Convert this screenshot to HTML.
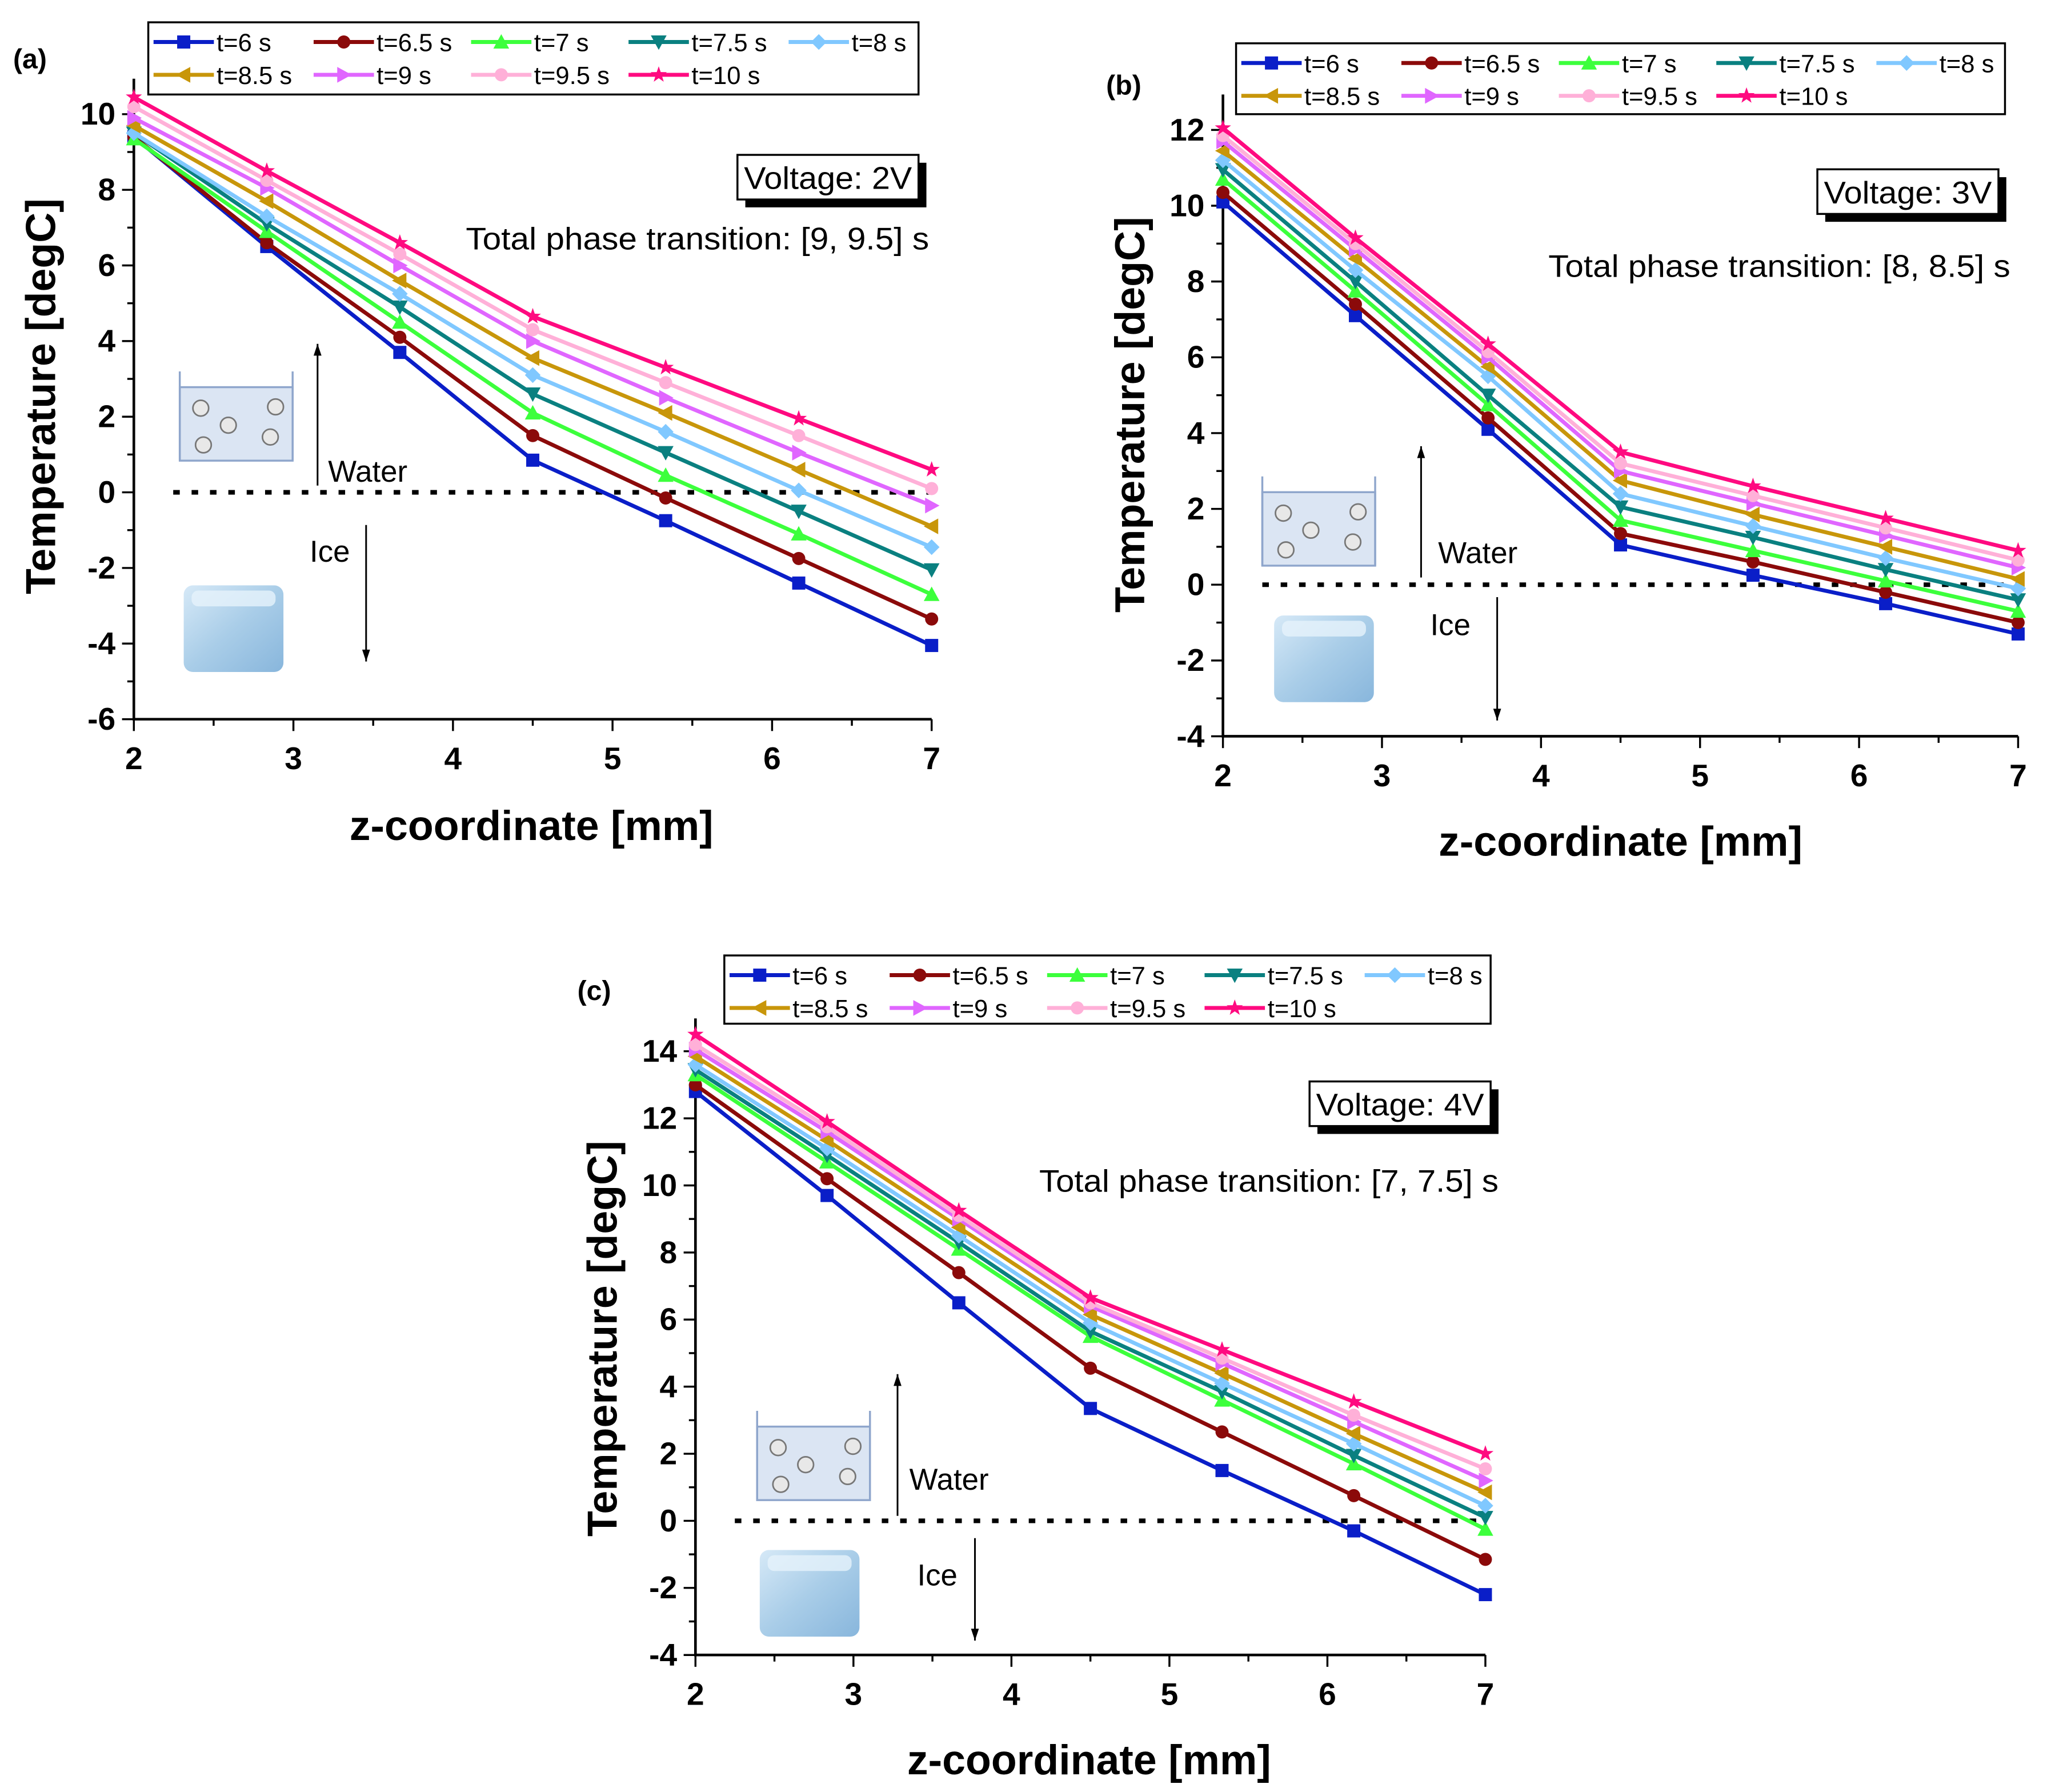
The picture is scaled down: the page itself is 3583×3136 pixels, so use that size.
<!DOCTYPE html>
<html><head><meta charset="utf-8">
<style>
html,body{margin:0;padding:0;background:#fff;}
svg{display:block;font-family:"Liberation Sans",Arial,sans-serif;}
</style></head>
<body>
<svg id="fig" width="3583" height="3136" viewBox="0 0 1560 1365.4" xmlns="http://www.w3.org/2000/svg">
<defs>
<linearGradient id="iceg" x1="0" y1="0" x2="1" y2="1">
<stop offset="0" stop-color="#d6e9f7"/><stop offset="0.5" stop-color="#a9cde8"/><stop offset="1" stop-color="#88b6dc"/>
</linearGradient>
</defs>
</svg>
<script>
const zValues = [2, 2.833, 3.667, 4.5, 5.333, 6.167, 7];
const seriesNames = ['t=6 s','t=6.5 s','t=7 s','t=7.5 s','t=8 s','t=8.5 s','t=9 s','t=9.5 s','t=10 s'];
const seriesColors = ['#0a1ec8','#8b0a0a','#3cff3c','#0a8080','#80c8ff','#c8960a','#e066ff','#ffb0d8','#ff0a80'];
const seriesMarkers = ['square','circle','tri-up','tri-down','diamond','tri-left','tri-right','hex','star'];
const tempA = [
 [9.4, 6.5, 3.7, 0.85, -0.75, -2.4, -4.05],
 [9.4, 6.6, 4.1, 1.5, -0.15, -1.75, -3.35],
 [9.35, 6.9, 4.5, 2.1, 0.45, -1.1, -2.7],
 [9.5, 7.1, 4.9, 2.6, 1.05, -0.5, -2.05],
 [9.5, 7.3, 5.25, 3.1, 1.6, 0.05, -1.45],
 [9.7, 7.7, 5.6, 3.55, 2.1, 0.6, -0.9],
 [9.9, 8.05, 6.0, 4.0, 2.5, 1.05, -0.35],
 [10.2, 8.25, 6.3, 4.3, 2.9, 1.5, 0.1],
 [10.45, 8.5, 6.6, 4.65, 3.3, 1.95, 0.6]
];
const tempB = [
 [10.1, 7.1, 4.1, 1.05, 0.25, -0.5, -1.3],
 [10.35, 7.4, 4.4, 1.35, 0.6, -0.2, -1.0],
 [10.7, 7.75, 4.75, 1.7, 0.9, 0.1, -0.7],
 [10.95, 8.0, 5.0, 2.05, 1.25, 0.4, -0.4],
 [11.2, 8.3, 5.5, 2.4, 1.55, 0.7, -0.1],
 [11.45, 8.6, 5.75, 2.75, 1.85, 1.0, 0.15],
 [11.7, 8.85, 6.0, 3.0, 2.15, 1.3, 0.45],
 [11.85, 9.0, 6.15, 3.2, 2.35, 1.5, 0.65],
 [12.05, 9.15, 6.35, 3.5, 2.6, 1.75, 0.9]
];
const tempC = [
 [12.8, 9.7, 6.5, 3.35, 1.5, -0.3, -2.2],
 [13.0, 10.2, 7.4, 4.55, 2.65, 0.75, -1.15],
 [13.3, 10.7, 8.1, 5.5, 3.6, 1.7, -0.25],
 [13.45, 10.9, 8.3, 5.65, 3.85, 1.95, 0.1],
 [13.6, 11.1, 8.5, 5.9, 4.1, 2.3, 0.45],
 [13.85, 11.35, 8.75, 6.15, 4.4, 2.6, 0.85],
 [14.05, 11.6, 9.0, 6.4, 4.7, 2.95, 1.2],
 [14.2, 11.75, 9.1, 6.5, 4.85, 3.15, 1.55],
 [14.5, 11.9, 9.25, 6.65, 5.1, 3.55, 2.0]
];
const xTicks = [2,3,4,5,6,7];
const yTicksA = [-6,-4,-2,0,2,4,6,8,10];
const yTicksB = [-4,-2,0,2,4,6,8,10,12];
const yTicksC = [-4,-2,0,2,4,6,8,10,12,14];

const NS='http://www.w3.org/2000/svg';
const svg=document.getElementById('fig');
function mk(tag,attrs,parent,text){
  const e=document.createElementNS(NS,tag);
  for(const k in attrs)e.setAttribute(k,attrs[k]);
  if(text!==undefined)e.textContent=text;
  (parent||svg).appendChild(e);return e;
}
function marker(g,type,x,y,c){
  const s=5;let e;
  if(type==='square')e=mk('rect',{x:x-s,y:y-s,width:2*s,height:2*s,fill:c},g);
  else if(type==='circle'||type==='hex')e=mk('circle',{cx:x,cy:y,r:s,fill:c},g);
  else{
    let p;
    if(type==='tri-up')p=[[0,-6],[6,5],[-6,5]];
    else if(type==='tri-down')p=[[0,6],[6,-5],[-6,-5]];
    else if(type==='tri-left')p=[[-6,0],[5,-6],[5,6]];
    else if(type==='tri-right')p=[[6,0],[-5,-6],[-5,6]];
    else if(type==='diamond')p=[[0,-6],[6,0],[0,6],[-6,0]];
    else {p=[];for(let i=0;i<10;i++){const r=i%2?2.6:6.5,a=-Math.PI/2+i*Math.PI/5;p.push([r*Math.cos(a),r*Math.sin(a)]);}}
    e=mk('polygon',{points:p.map(q=>(x+q[0])+','+(y+q[1])).join(' '),fill:c},g);
  }
  
  
}

function panel(cfg){
  const g=mk('g',{});
  
  
  const xs=v=>cfg.x0+(v-2)/(7-2)*(cfg.x1-cfg.x0);
  const ys=v=>cfg.yTop+(cfg.yMax-v)/(cfg.yMax-cfg.yMin)*(cfg.yBot-cfg.yTop);
  const ax=mk('path',{d:`M${cfg.x0},${cfg.axTop} V${cfg.yBot} H${cfg.x1}`,stroke:'#000','stroke-width':2,fill:'none'},g);
  
  for(let v=2;v<=7.001;v+=0.5){
    const major=Math.abs(v-Math.round(v))<1e-6;
    mk('line',{x1:xs(v),x2:xs(v),y1:cfg.yBot,y2:cfg.yBot+(major?9:5),stroke:'#000','stroke-width':1.5},g);
  }
  xTicks.forEach(v=>{
    const t=mk('text',{x:xs(v),y:cfg.yBot+38,'text-anchor':'middle','font-size':24,'font-weight':'bold'},g,String(v));
    
  });
  for(let v=cfg.yMin;v<=cfg.yMax+0.001;v+=1){
    const major=v%2===0;
    mk('line',{x1:cfg.x0,x2:cfg.x0-(major?9:5),y1:ys(v),y2:ys(v),stroke:'#000','stroke-width':1.5},g);
  }
  cfg.yTicks.forEach(v=>{
    const t=mk('text',{x:cfg.x0-14,y:ys(v)+8,'text-anchor':'end','font-size':24,'font-weight':'bold'},g,String(v));
    
  });
  const xl=mk('text',{x:cfg.xlx,y:cfg.xly,'text-anchor':'middle','font-size':32,'font-weight':'bold'},g,'z-coordinate [mm]');
  
  const yl=mk('text',{x:0,y:0,'text-anchor':'middle','font-size':32,'font-weight':'bold',transform:`translate(${cfg.ylx},${cfg.yly}) rotate(-90)`},g,'Temperature [degC]');
  
  const pl=mk('text',{x:cfg.plx,y:cfg.ply,'font-size':21,'font-weight':'bold'},g,cfg.label);
  
  const zl=mk('line',{x1:cfg.x0+30,x2:cfg.x1,y1:ys(0),y2:ys(0),stroke:'#000','stroke-width':3.5,'stroke-dasharray':'5 9'},g);
  
  const ic=cfg.icon;
  const bk=mk('g',{},g);
  mk('rect',{x:ic.bx,y:ic.by+12,width:86,height:56,fill:'#dbe5f3',stroke:'#8fa6cc','stroke-width':1.5},bk);
  mk('path',{d:`M${ic.bx},${ic.by} V${ic.by+68} M${ic.bx+86},${ic.by} V${ic.by+68}`,stroke:'#8fa6cc','stroke-width':1.5},bk);
  [[16,28],[37,41],[73,27],[69,50],[18,56]].forEach(p=>mk('circle',{cx:ic.bx+p[0],cy:ic.by+p[1],r:6,fill:'#e8e8e8',stroke:'#777','stroke-width':1.2},bk));
  const cube=mk('g',{},g);
  mk('rect',{x:ic.cx,y:ic.cy,width:76,height:66,rx:7,fill:'url(#iceg)'},cube);
  mk('rect',{x:ic.cx+6,y:ic.cy+4,width:64,height:12,rx:5,fill:'#e6f2fb',opacity:0.8},cube);
  mk('path',{d:`M${ic.wa},${ic.wa1} V${ic.wa2}`,stroke:'#000','stroke-width':1.3},g);
  mk('polygon',{points:`${ic.wa-3},${ic.wa2+9} ${ic.wa+3},${ic.wa2+9} ${ic.wa},${ic.wa2}`,fill:'#000'},g);
  mk('path',{d:`M${ic.ia},${ic.ia1} V${ic.ia2}`,stroke:'#000','stroke-width':1.3},g);
  mk('polygon',{points:`${ic.ia-3},${ic.ia2-9} ${ic.ia+3},${ic.ia2-9} ${ic.ia},${ic.ia2}`,fill:'#000'},g);
  const wt=mk('text',{x:ic.wx,y:ic.wy,'font-size':23},g,'Water');
  const it=mk('text',{x:ic.ix,y:ic.iy,'font-size':23},g,'Ice');
  cfg.data.forEach((vals,i)=>{
    const sg=mk('g',{},g);
    
    
    mk('polyline',{points:vals.map((v,j)=>xs(zValues[j])+','+ys(v)).join(' '),fill:'none',stroke:seriesColors[i],'stroke-width':3},sg);
    vals.forEach((v,j)=>marker(sg,seriesMarkers[i],xs(zValues[j]),ys(v),seriesColors[i]));
  });
  const vb=cfg.vbox;
  const vg=mk('g',{},g);
  mk('rect',{x:vb.x+6,y:vb.y+6,width:138,height:34,fill:'#000'},vg);
  mk('rect',{x:vb.x,y:vb.y,width:138,height:34,fill:'#fff',stroke:'#000','stroke-width':1.5},vg);
  mk('text',{x:vb.x+69,y:vb.y+26,'text-anchor':'middle','font-size':24,textLength:128,lengthAdjust:'spacingAndGlyphs'},vg,cfg.voltage);
  const pt=mk('text',{x:vb.tx-vb.tw,y:vb.ty,'font-size':24,textLength:vb.tw,lengthAdjust:'spacingAndGlyphs'},g,cfg.phase);
  
  const L=cfg.leg;
  const lg=mk('g',{},g);
  mk('rect',{x:L.x,y:L.y,width:L.w,height:L.h,fill:'#fff',stroke:'#000','stroke-width':1.5},lg);
  const cols=[0,122,242,362,484];
  seriesNames.forEach((n,i)=>{
    const row=i<5?0:1,col=i<5?i:i-5;
    const lx=L.x+4+cols[col],ly=L.y+15+row*25;
    const eg=mk('g',{},lg);
    mk('line',{x1:lx,x2:lx+46,y1:ly,y2:ly,stroke:seriesColors[i],'stroke-width':3},eg);
    marker(eg,seriesMarkers[i],lx+23,ly,seriesColors[i]);
    mk('text',{x:lx+48,y:ly+7,'font-size':19},eg,n);
  });
}

panel({id:'a',label:'(a)',plx:10,ply:52,x0:102,x1:710,yTop:87,yBot:548,axTop:60,yMax:10,yMin:-6,yTicks:yTicksA,data:tempA,
  xlx:405,xly:640,ylx:42,yly:302,voltage:'Voltage: 2V',phase:'Total phase transition: [9, 9.5] s',
  vbox:{x:562,y:118,tx:708,ty:190,tw:353},leg:{x:113,y:17,w:587,h:55},
  icon:{bx:137,by:283,cx:140,cy:446,wa:242,wa1:370,wa2:262,ia:279,ia1:400,ia2:504,wx:250,wy:367,ix:236,iy:428}});
panel({id:'b',label:'(b)',plx:843,ply:72,x0:932,x1:1538,yTop:99,yBot:561,axTop:72,yMax:12,yMin:-4,yTicks:yTicksB,data:tempB,
  xlx:1235,xly:652,ylx:872,yly:316,voltage:'Voltage: 3V',phase:'Total phase transition: [8, 8.5] s',
  vbox:{x:1385,y:129,tx:1532,ty:211,tw:352},leg:{x:942,y:33,w:586,h:54},
  icon:{bx:962,by:363,cx:971,cy:469,wa:1083,wa1:440,wa2:340,ia:1141,ia1:455,ia2:549,wx:1096,wy:429,ix:1090,iy:484}});
panel({id:'c',label:'(c)',plx:440,ply:762,x0:530,x1:1132,yTop:801,yBot:1261,axTop:776,yMax:14,yMin:-4,yTicks:yTicksC,data:tempC,
  xlx:830,xly:1352,ylx:470,yly:1020,voltage:'Voltage: 4V',phase:'Total phase transition: [7, 7.5] s',
  vbox:{x:998,y:824,tx:1142,ty:908,tw:350},leg:{x:552,y:728,w:584,h:52},
  icon:{bx:577,by:1075,cx:579,cy:1181,wa:684,wa1:1155,wa2:1047,ia:743,ia1:1172,ia2:1250,wx:693,wy:1135,ix:699,iy:1208}});
</script>
</body></html>
